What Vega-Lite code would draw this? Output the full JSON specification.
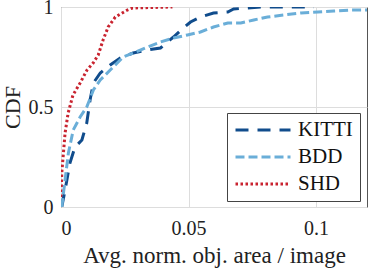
{
  "$schema": "https://vega.github.io/schema/vega-lite/v6.json",
  "autosize": {"type": "none"},
  "padding": {"left": 61, "top": 7, "right": 4, "bottom": 66},
  "width": 306,
  "height": 200,
  "background": "white",
  "config": {
    "font": "Liberation Serif",
    "view": {"stroke": "#555", "strokeWidth": 1},
    "text": {"font": "Liberation Serif"},
    "axis": {
      "labelFont": "Liberation Serif",
      "titleFont": "Liberation Serif",
      "labelFontSize": 20,
      "titleFontSize": 22,
      "titleFontWeight": "normal",
      "labelColor": "#222",
      "titleColor": "#222",
      "domain": false,
      "ticks": false,
      "gridColor": "#ddd",
      "gridWidth": 1
    },
    "legend": {
      "labelFont": "Liberation Serif"
    }
  },
  "data": {
    "values": [
      {"series": "SHD", "x": 0, "y": 0},
      {"series": "SHD", "x": 0.0003, "y": 0.17},
      {"series": "SHD", "x": 0.0016, "y": 0.37},
      {"series": "SHD", "x": 0.0028, "y": 0.47},
      {"series": "SHD", "x": 0.0047, "y": 0.56},
      {"series": "SHD", "x": 0.0075, "y": 0.62},
      {"series": "SHD", "x": 0.0102, "y": 0.685},
      {"series": "SHD", "x": 0.0126, "y": 0.72},
      {"series": "SHD", "x": 0.0146, "y": 0.76},
      {"series": "SHD", "x": 0.0165, "y": 0.835},
      {"series": "SHD", "x": 0.0185, "y": 0.9},
      {"series": "SHD", "x": 0.0213, "y": 0.95},
      {"series": "SHD", "x": 0.026, "y": 0.985},
      {"series": "SHD", "x": 0.028, "y": 0.995},
      {"series": "SHD", "x": 0.0437, "y": 1.0},
      {"series": "KITTI", "x": 0.0003, "y": 0.0},
      {"series": "KITTI", "x": 0.0016, "y": 0.085},
      {"series": "KITTI", "x": 0.0035, "y": 0.22},
      {"series": "KITTI", "x": 0.0055, "y": 0.3},
      {"series": "KITTI", "x": 0.0082, "y": 0.335},
      {"series": "KITTI", "x": 0.0101, "y": 0.42},
      {"series": "KITTI", "x": 0.0114, "y": 0.535},
      {"series": "KITTI", "x": 0.0127, "y": 0.62},
      {"series": "KITTI", "x": 0.0154, "y": 0.67},
      {"series": "KITTI", "x": 0.0193, "y": 0.71},
      {"series": "KITTI", "x": 0.0232, "y": 0.745},
      {"series": "KITTI", "x": 0.0283, "y": 0.77},
      {"series": "KITTI", "x": 0.0339, "y": 0.785},
      {"series": "KITTI", "x": 0.039, "y": 0.795},
      {"series": "KITTI", "x": 0.0441, "y": 0.85},
      {"series": "KITTI", "x": 0.048, "y": 0.895},
      {"series": "KITTI", "x": 0.0508, "y": 0.925},
      {"series": "KITTI", "x": 0.0547, "y": 0.95},
      {"series": "KITTI", "x": 0.0598, "y": 0.97},
      {"series": "KITTI", "x": 0.0654, "y": 0.975},
      {"series": "KITTI", "x": 0.0677, "y": 0.99},
      {"series": "KITTI", "x": 0.0732, "y": 0.995},
      {"series": "KITTI", "x": 0.0783, "y": 1.0},
      {"series": "KITTI", "x": 0.0874, "y": 1.0},
      {"series": "KITTI", "x": 0.0992, "y": 1.0},
      {"series": "BDD", "x": 0.0003, "y": 0},
      {"series": "BDD", "x": 0.0016, "y": 0.135},
      {"series": "BDD", "x": 0.0029, "y": 0.27},
      {"series": "BDD", "x": 0.0048, "y": 0.385},
      {"series": "BDD", "x": 0.0075, "y": 0.45},
      {"series": "BDD", "x": 0.0101, "y": 0.5},
      {"series": "BDD", "x": 0.0127, "y": 0.585},
      {"series": "BDD", "x": 0.0154, "y": 0.635},
      {"series": "BDD", "x": 0.0193, "y": 0.685},
      {"series": "BDD", "x": 0.0244, "y": 0.75},
      {"series": "BDD", "x": 0.0283, "y": 0.77},
      {"series": "BDD", "x": 0.0339, "y": 0.8},
      {"series": "BDD", "x": 0.039, "y": 0.825},
      {"series": "BDD", "x": 0.0441, "y": 0.845},
      {"series": "BDD", "x": 0.0496, "y": 0.86},
      {"series": "BDD", "x": 0.0547, "y": 0.875},
      {"series": "BDD", "x": 0.0598, "y": 0.9},
      {"series": "BDD", "x": 0.0654, "y": 0.92},
      {"series": "BDD", "x": 0.0705, "y": 0.92},
      {"series": "BDD", "x": 0.0756, "y": 0.935},
      {"series": "BDD", "x": 0.081, "y": 0.95},
      {"series": "BDD", "x": 0.0874, "y": 0.96},
      {"series": "BDD", "x": 0.0941, "y": 0.97},
      {"series": "BDD", "x": 0.1008, "y": 0.975},
      {"series": "BDD", "x": 0.107, "y": 0.98},
      {"series": "BDD", "x": 0.1138, "y": 0.985},
      {"series": "BDD", "x": 0.1205, "y": 0.985}
    ]
  },
  "mark": {"type": "line", "strokeWidth": 3, "clip": true, "interpolate": "linear"},
  "encoding": {
    "x": {
      "field": "x", "type": "quantitative",
      "scale": {"domain": [0, 0.12], "nice": false, "zero": false},
      "axis": {"values": [0, 0.05, 0.1], "format": "~g", "title": "Avg. norm. obj. area / image", "labelFont": "Liberation Serif", "titleFont": "Liberation Serif", "titleFontSize": 23, "labelPadding": 11, "titlePadding": 6}
    },
    "y": {
      "field": "y", "type": "quantitative",
      "scale": {"domain": [0, 1], "nice": false},
      "axis": {"values": [0, 0.5, 1], "format": "~g", "title": "CDF", "labelFont": "Liberation Serif", "titleFont": "Liberation Serif", "labelPadding": 8, "titlePadding": 4}
    },
    "color": {
      "field": "series", "type": "nominal",
      "scale": {"domain": ["KITTI", "BDD", "SHD"], "range": ["#104c8c", "#6aaed8", "#c9232f"]},
      "legend": {
        "title": null,
        "orient": "none",
        "legendX": 166,
        "legendY": 106,
        "symbolType": "stroke",
        "symbolSize": 3025,
        "symbolStrokeWidth": 3,
        "clipHeight": 20,
        "labelFont": "Liberation Serif",
        "labelFontSize": 21,
        "labelColor": "#111",
        "labelOffset": 6,
        "rowPadding": 6,
        "padding": 7,
        "strokeColor": "#444",
        "fillColor": "white"
      }
    },
    "strokeDash": {
      "field": "series", "type": "nominal",
      "scale": {"domain": ["KITTI", "BDD", "SHD"], "range": [[13, 9], [9, 4], [2.5, 2.5]]},
      "legend": null
    }
  }
}
